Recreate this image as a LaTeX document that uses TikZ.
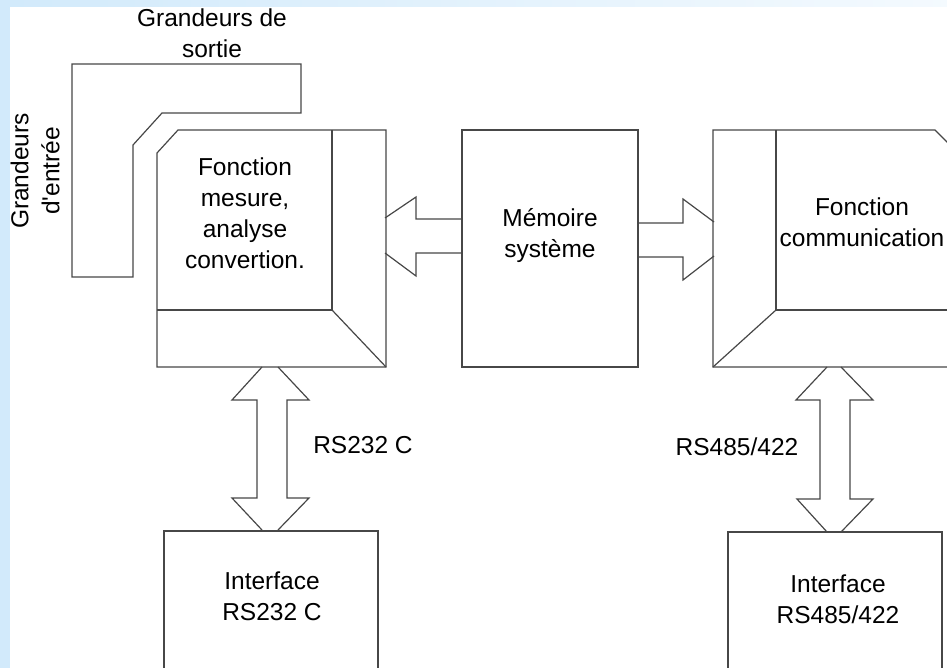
\documentclass[tikz,border=0pt]{standalone}
\usepackage{fontspec}
\setmainfont{Liberation Sans}
\definecolor{fondbleu}{RGB}{210,234,251}
\tikzset{
	trait/.style={draw=black!72, line width=1.2pt, line join=miter},
	texte/.style={align=center, font=\fontsize{24.5}{31}\selectfont, inner sep=0pt},
}

\begin{document}
\begin{tikzpicture}[x=1pt, y=-1pt]
		\useasboundingbox (0,0) rectangle (947,668);
		\clip (0,0) rectangle (947,668);
		\fill[fondbleu] (0,0) rectangle (10,668);
		\shade[left color=fondbleu, right color=fondbleu!25] (10,0) rectangle (947,7);

		\draw[trait] (72,64) -- (301,64) -- (301,113) -- (162,113)
			-- (133,145) -- (133,277) -- (72,277) -- cycle;
		\node[texte] (sortie) at (212,33) {Grandeurs de\\sortie};
		\node[texte, rotate=90] (entree) at (35,171) {Grandeurs\\d\textquotesingle entrée};

		\draw[trait] (157,153) -- (178,130) -- (386,130) -- (386,367) -- (157,367) -- cycle;
		\draw[trait] (332,130) -- (332,310) -- (157,310);
		\draw[trait] (332,310) -- (386,367);
		\node[texte] (mesure) at (245,213) {Fonction\\mesure,\\analyse\\convertion.};

		\draw[trait] (462,130) rectangle (638,367);
		\node[texte] (memoire) at (550,236) {Mémoire\\système};

		\draw[trait] (462,219) -- (416,219) -- (416,197) -- (385,218);
		\draw[trait] (462,253) -- (416,253) -- (416,276) -- (385,253);
		\draw[trait] (638,223) -- (683,223) -- (683,199) -- (714,222);
		\draw[trait] (638,257) -- (683,257) -- (683,280) -- (714,256);

		\draw[trait] (960,155) -- (935,130) -- (713,130) -- (713,367) -- (960,367);
		\draw[trait] (960,310) -- (776,310) -- (776,130);
		\draw[trait] (713,367) -- (776,310);
		\node[texte] (communication) at (862,222) {Fonction\\communication};

		\draw[trait] (262,367) -- (232,400) -- (257,400) -- (257,498) -- (232,498) -- (262,530);
		\draw[trait] (278,367) -- (309,400) -- (287,400) -- (287,498) -- (309,498) -- (278,530);
		\node[texte] (rsA) at (363,445) {RS232 C};
		\draw[trait] (164,680) -- (164,531) -- (378,531) -- (378,680);
		\node[texte] (interfaceA) at (272,596) {Interface\\RS232 C};

		\draw[trait] (827,367) -- (796,400) -- (820,400) -- (820,499) -- (797,499) -- (827,532);
		\draw[trait] (841,367) -- (873,400) -- (850,400) -- (850,499) -- (873,499) -- (841,532);
		\node[texte] (rsB) at (737,447) {RS485/422};
		\draw[trait] (728,680) -- (728,532) -- (942,532) -- (942,680);
		\node[texte] (interfaceB) at (838,599) {Interface\\RS485/422};
	\end{tikzpicture}
\end{document}
